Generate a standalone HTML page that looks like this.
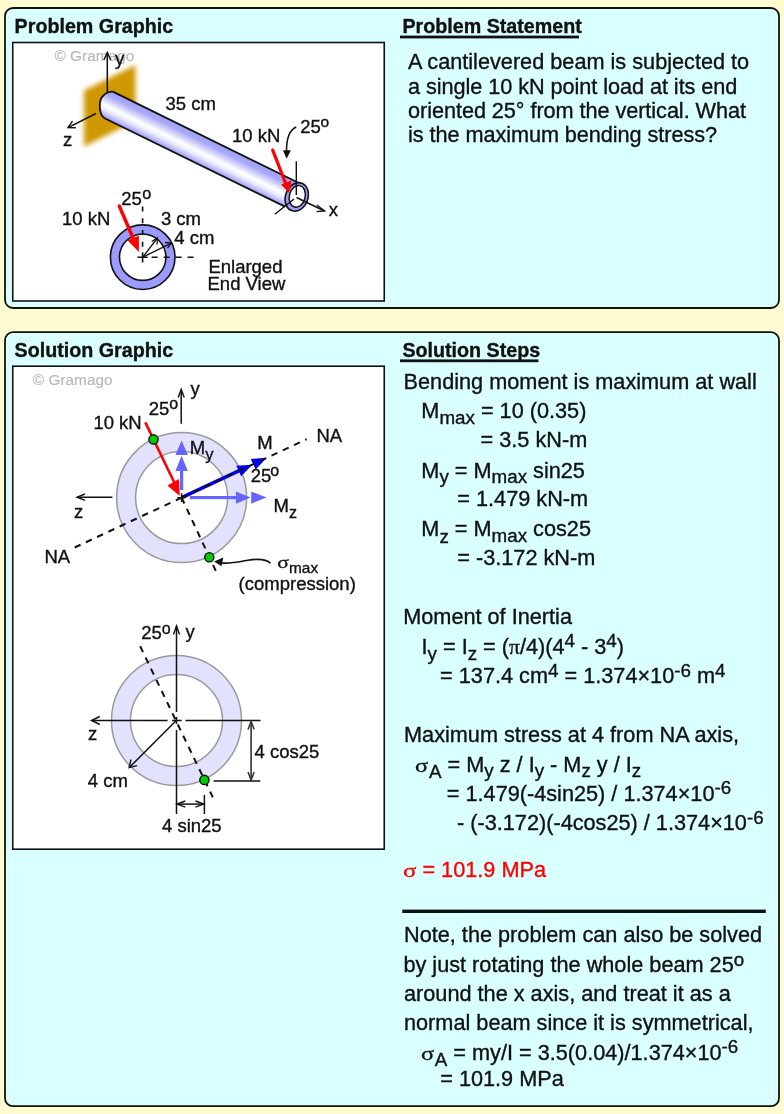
<!DOCTYPE html>
<html><head><meta charset="utf-8">
<style>
html,body{margin:0;padding:0;background:#FFFCD2;width:784px;height:1114px;overflow:hidden}
svg{display:block;will-change:transform}
text{font-family:"Liberation Sans",sans-serif;fill:#111;stroke:#111;stroke-width:0.35px}
.h{font-weight:bold;font-size:19.7px}
.b{font-size:21.7px}
.l{font-size:18.5px}
.s{font-size:18.8px}
.gr{font-family:"Liberation Serif",serif}
.cp{font-size:15.4px;fill:#b4b8b8;stroke:#b4b8b8;stroke-width:0.1px}
</style></head>
<body>
<svg width="784" height="1114" viewBox="0 0 784 1114">
<defs>
  <linearGradient id="beamg" gradientUnits="userSpaceOnUse" x1="206.07" y1="137.72" x2="193.93" y2="162.28">
    <stop offset="0" stop-color="#a2a2f6"/>
    <stop offset="0.2" stop-color="#a9a9f8"/>
    <stop offset="0.56" stop-color="#ffffff"/>
    <stop offset="0.72" stop-color="#ececfe"/>
    <stop offset="1" stop-color="#9898f8"/>
  </linearGradient>
  <filter id="blur1" x="-20%" y="-20%" width="140%" height="140%"><feGaussianBlur stdDeviation="2.4"/></filter>
  <marker id="oa" viewBox="0 0 10 10" refX="10" refY="5" markerWidth="8" markerHeight="8" orient="auto" markerUnits="userSpaceOnUse">
    <path d="M0,1 L10,5 L0,9" fill="none" stroke="#111" stroke-width="1.5"/>
  </marker>
</defs>

<!-- Panel 1 -->
<rect x="5" y="8" width="774" height="300" rx="8" fill="#DAFFFF" stroke="#111" stroke-width="1.8"/>
<rect x="12.75" y="42.5" width="371.5" height="258.5" fill="#fff" stroke="#111" stroke-width="1.6"/>
<text class="h" x="14.6" y="33">Problem Graphic</text>
<text class="h" x="402.4" y="33">Problem Statement</text>
<rect x="400" y="35.6" width="179" height="2.8" fill="#111"/>
<text class="b" x="408" y="69">A cantilevered beam is subjected to</text>
<text class="b" x="408" y="93.6" textLength="329.4" lengthAdjust="spacing">a single 10 kN point load at its end</text>
<text class="b" x="408" y="117.7" textLength="338" lengthAdjust="spacing">oriented 25° from the vertical. What</text>
<text class="b" x="408" y="141.5" textLength="309" lengthAdjust="spacing">is the maximum bending stress?</text>

<g id="pg1">
  <text class="cp" x="54.5" y="61.4">© Gramago</text>
  <!-- wall -->
  <path d="M84,90.5 L135.5,65 L135.5,121 L84,146.5 Z" fill="#CF9806" filter="url(#blur1)"/>
  <!-- y axis -->
  <line x1="107.3" y1="92" x2="107.3" y2="52.5" stroke="#111" stroke-width="1.5"/>
  <path d="M103.8,60 L107.3,52.5 L110.8,60" fill="none" stroke="#111" stroke-width="1.4"/>
  <text class="l" x="115" y="64.5">y</text>
  <!-- z axis -->
  <line x1="96" y1="113.5" x2="68" y2="127.6" stroke="#111" stroke-width="1.5"/>
  <path d="M72.5,121.2 L68,127.6 L75.8,127.8" fill="none" stroke="#111" stroke-width="1.4"/>
  <text class="l" x="63" y="146">z</text>
  <!-- beam -->
  <path d="M112.8,91.6 L302,184.5 L285,206.6 L104.6,118.2 C98.5,114.5 98.5,100 103,96 C105.5,93 109,91.4 112.8,91.6 Z" fill="url(#beamg)"/>
  <path d="M112.8,91.6 L302,184.5 M285,206.6 L104.6,118.2 C98.5,114.5 98.5,100 103,96 C105.5,93 109,91.4 112.8,91.6" fill="none" stroke="#111" stroke-width="1.8"/>
  <!-- end ring -->
  <ellipse cx="0" cy="0" rx="11.2" ry="14.6" fill="#9c9cf8" stroke="#111" stroke-width="1.6" transform="translate(296.75,196.9) rotate(20)"/>
  <ellipse cx="0" cy="0" rx="7.9" ry="11" fill="#fff" stroke="#111" stroke-width="1.5" transform="translate(297.3,196.3) rotate(14)"/>
  <line x1="296.3" y1="161.3" x2="296.3" y2="195" stroke="#111" stroke-width="1.4"/>
  <line x1="296.5" y1="197.5" x2="324.5" y2="211" stroke="#111" stroke-width="1.4"/>
  <path d="M316.8,205 L324.5,211 L316.5,211.6" fill="none" stroke="#111" stroke-width="1.4"/>
  <line x1="294" y1="199" x2="274.8" y2="214.3" stroke="#111" stroke-width="1.4"/>
  <text class="l" x="328.8" y="216.3">x</text>
  <!-- red arrow -->
  <line x1="272.7" y1="150.1" x2="285.5" y2="183" stroke="#ff0000" stroke-width="3.2" stroke-linecap="round"/>
  <path d="M281.1,184.5 L291.8,180.2 L289,192.7 Z" fill="#ff0000"/>
  <text class="l" x="232" y="141.5">10 kN</text>
  <text class="l" x="300.2" y="132.8">25</text>
  <text x="320.5" y="126.5" style="font-size:15.5px">o</text>
  <path d="M296.3,127 C289,130 286.5,140 286.5,151" fill="none" stroke="#111" stroke-width="1.5"/>
  <path d="M283,150.2 L291,150.2 L286.5,158.7 Z" fill="#111"/>
  <text class="l" x="165.5" y="109.6">35 cm</text>
  <!-- end view -->
  <circle cx="142.7" cy="257.2" r="32.3" fill="#9a9aff" stroke="#111" stroke-width="1.6"/>
  <circle cx="142.7" cy="257.2" r="23.2" fill="#fff" stroke="#111" stroke-width="1.6"/>
  <line x1="142.6" y1="206.4" x2="142.6" y2="250" stroke="#111" stroke-width="1.6" stroke-dasharray="5,6.8"/>
  <line x1="151.6" y1="257.3" x2="194" y2="257.3" stroke="#111" stroke-width="1.6" stroke-dasharray="6,6"/>
  <path d="M137.5,257.3 H147.6 M142.6,252.3 V262.4" stroke="#111" stroke-width="1.6"/>
  <line x1="142.7" y1="257.2" x2="157.4" y2="238" stroke="#111" stroke-width="1.3"/>
  <path d="M151.8,241.5 L157.4,238 L157,244.5" fill="none" stroke="#111" stroke-width="1.3"/>
  <line x1="142.7" y1="257.2" x2="171.4" y2="243.1" stroke="#111" stroke-width="1.3"/>
  <path d="M165,242.5 L171.4,243.1 L167.5,248.2" fill="none" stroke="#111" stroke-width="1.3"/>
  <line x1="119.3" y1="206.1" x2="133.5" y2="239" stroke="#ff0000" stroke-width="3.5" stroke-linecap="round"/>
  <path d="M127.5,240.2 L138.9,235.8 L138.9,251.9 Z" fill="#ff0000"/>
  <text class="l" x="62" y="224.6">10 kN</text>
  <text class="l" x="121.3" y="204.6">25</text>
  <text x="142.3" y="198.6" style="font-size:16.2px">o</text>
  <text class="l" x="160.9" y="225.3">3 cm</text>
  <text class="l" x="174.3" y="243.8">4 cm</text>
  <text class="l" x="208.4" y="272.5">Enlarged</text>
  <text class="l" x="207.5" y="290">End View</text>
</g>

<!-- Panel 2 -->
<rect x="5" y="332.2" width="774" height="774" rx="8" fill="#DAFFFF" stroke="#111" stroke-width="1.8"/>
<rect x="12.75" y="366.2" width="371.5" height="483" fill="#fff" stroke="#111" stroke-width="1.6"/>
<text class="h" x="14.6" y="357">Solution Graphic</text>
<text class="h" x="402.4" y="356.7">Solution Steps</text>
<rect x="400" y="359.4" width="138.4" height="2.8" fill="#111"/>

<g id="sg1">
  <text class="cp" x="32.8" y="384.9">© Gramago</text>
  <circle cx="181.6" cy="497.6" r="55.5" fill="none" stroke="#e2e2fe" stroke-width="19"/>
  <circle cx="181.6" cy="497.6" r="65" fill="none" stroke="#9a9a9a" stroke-width="1.5"/>
  <circle cx="181.6" cy="497.6" r="46" fill="none" stroke="#9a9a9a" stroke-width="1.5"/>
  <!-- y axis -->
  <line x1="181.2" y1="423.8" x2="181.2" y2="390" stroke="#111" stroke-width="1.5"/>
  <path d="M178.2,397.5 L181.2,389.2 L184.2,397.5" fill="none" stroke="#111" stroke-width="1.4"/>
  <text class="l" x="190.5" y="395.3">y</text>
  <text class="l" x="148.7" y="415">25</text>
  <text x="169.3" y="408.8" style="font-size:16px">o</text>
  <text class="l" x="93.4" y="428.5">10 kN</text>
  <!-- z axis -->
  <line x1="112.4" y1="497.2" x2="77.5" y2="497.2" stroke="#111" stroke-width="1.5"/>
  <path d="M85,494 L77,497.2 L85,500.4" fill="none" stroke="#111" stroke-width="1.4"/>
  <text class="l" x="74" y="518.3">z</text>
  <!-- NA dashed -->
  <line x1="74.66" y1="547.47" x2="181.6" y2="497.6" stroke="#111" stroke-width="2" stroke-dasharray="6.5,5.9"/>
  <text class="l" x="44.5" y="562.6">NA</text>
  <text class="l" x="316.5" y="442">NA</text>
  <!-- My arrows -->
  <rect x="180" y="467" width="3.2" height="23" fill="#6666ff"/>
  <path d="M175.4,471 L187.8,471 L181.6,455.7 Z M175.4,455 L187.8,455 L181.6,440.4 Z" fill="#6666ff"/>
  <text class="l" x="189.8" y="454.4">M<tspan dy="5.2" style="font-size:16.5px">y</tspan></text>
  <!-- Mz arrows -->
  <rect x="190" y="496" width="46" height="3.2" fill="#6666ff"/>
  <path d="M235.9,491.5 L235.9,503.7 L250.6,497.6 Z M251.2,491.5 L251.2,503.7 L266.5,497.6 Z" fill="#6666ff"/>
  <text class="l" x="273.6" y="512.3">M<tspan dy="5.7" style="font-size:16px">z</tspan></text>
  <!-- M arrow -->
  <line x1="181.6" y1="497.6" x2="241.42" y2="469.71" stroke="#0000ee" stroke-width="3.6"/>
  <path d="M252.29,464.64 L241.15,476.23 L236.25,465.72 Z M266.79,457.87 L255.65,469.47 L250.75,458.96 Z" fill="#0000ee"/>
  <line x1="181.6" y1="497.6" x2="306.67" y2="439.28" stroke="#111" stroke-width="2" stroke-dasharray="6.5,5.9"/>
  <text class="l" x="257.3" y="448.9">M</text>
  <text class="l" x="250.8" y="482.1">25</text>
  <text x="270.2" y="476" style="font-size:16px">o</text>
  <!-- diag dashed -->
  <line x1="181.6" y1="497.6" x2="217.95" y2="575.54" stroke="#111" stroke-width="2" stroke-dasharray="6.5,5.9"/>
  <!-- red force -->
  <line x1="145.3" y1="422.4" x2="175.5" y2="485" stroke="#ff0000" stroke-width="2.6"/>
  <path d="M167.4,485.4 L179,479 L179.7,496 Z" fill="#ff0000"/>
  <path d="M177.2,497.6 H186 M181.6,493.2 V502" stroke="#111" stroke-width="1.4"/>
  <circle cx="153.5" cy="439.4" r="4.6" fill="#00cc00" stroke="#111" stroke-width="1.4"/>
  <circle cx="209.3" cy="557.2" r="4.6" fill="#00cc00" stroke="#111" stroke-width="1.4"/>
  <!-- sigma max -->
  <path d="M270.5,563.2 C266.5,559.2 258,558.6 248,560.2 C238,562 230,564 221,562.9" fill="none" stroke="#111" stroke-width="1.6"/>
  <path d="M214.1,561.6 L223.3,557.6 L221.5,566.2 Z" fill="#111"/>
  <text class="gr" transform="matrix(0.2167,0,0,0.1692,277.13,567.92)" style="font-size:100px;stroke-width:1.6px">σ</text>
  <text x="289" y="573.3" style="font-size:15.4px">max</text>
  <text class="l" x="238.6" y="590.3">(compression)</text>
</g>
<g id="sg2">
  <circle cx="176.5" cy="720.5" r="55.5" fill="none" stroke="#e2e2fe" stroke-width="19"/>
  <circle cx="176.5" cy="720.5" r="65" fill="none" stroke="#9a9a9a" stroke-width="1.5"/>
  <circle cx="176.5" cy="720.5" r="46" fill="none" stroke="#9a9a9a" stroke-width="1.5"/>
  <!-- y axis with gaps -->
  <path d="M176.5,626.5 V712 M176.5,717 V724 M176.5,730 V814" stroke="#111" stroke-width="1.5"/>
  <path d="M173.5,634.5 L176.5,625.8 L179.5,634.5" fill="none" stroke="#111" stroke-width="1.4"/>
  <path d="M92,720.5 H167.6 M172.1,720.5 H181.7 M185.5,720.5 H260.5" stroke="#111" stroke-width="1.5"/>
  <path d="M99.8,716.5 L91.5,720.5 L99.8,724.5" fill="none" stroke="#111" stroke-width="1.4"/>
  <text class="l" x="141.2" y="638.6">25</text>
  <text x="161.8" y="634.1" style="font-size:16px">o</text>
  <text class="l" x="185.5" y="638.2">y</text>
  <text class="l" x="88" y="739.5">z</text>
  <line x1="140.2" y1="646.3" x2="212.8" y2="797.2" stroke="#111" stroke-width="2" stroke-dasharray="6.5,5.9" stroke-dashoffset="0"/>
  <!-- 4 cm arrow -->
  <line x1="176.3" y1="720.5" x2="129.6" y2="767.2" stroke="#111" stroke-width="1.5"/>
  <path d="M131,759.5 L129.1,767.6 L137,765.6" fill="none" stroke="#111" stroke-width="1.4"/>
  <text class="l" x="87.8" y="786.7">4 cm</text>
  <circle cx="204.4" cy="779.9" r="4.6" fill="#00cc00" stroke="#111" stroke-width="1.4"/>
  <!-- vertical dimension -->
  <path d="M213.6,781 H260.3" stroke="#111" stroke-width="1.5"/>
  <line x1="251.1" y1="721.5" x2="251.1" y2="780" stroke="#333" stroke-width="1.6"/>
  <path d="M248,729.5 L251.1,721.3 L254.2,729.5 M248,772 L251.1,780.2 L254.2,772" fill="none" stroke="#333" stroke-width="1.5"/>
  <text class="l" x="254.5" y="758.2">4 cos25</text>
  <!-- horizontal dimension -->
  <path d="M204.4,795 V814" stroke="#111" stroke-width="1.5"/>
  <line x1="177.3" y1="804.1" x2="203.6" y2="804.1" stroke="#111" stroke-width="1.5"/>
  <path d="M185.3,801 L177,804.1 L185.3,807.2 M195.5,801 L203.8,804.1 L195.5,807.2" fill="none" stroke="#111" stroke-width="1.4"/>
  <text class="l" x="162" y="832.4">4 sin25</text>
</g>
<g id="steps">
<text class="b" x="403.6" y="389">Bending moment is maximum at wall</text>
<text class="b" x="421.3" y="418.4">M<tspan class="s" dy="5.7">max</tspan><tspan dy="-5.7"> = 10 (0.35)</tspan></text>
<text class="b" x="480.6" y="446.9">= 3.5 kN-m</text>
<text class="b" x="421.3" y="477.7">M<tspan class="s" dy="5.7">y</tspan><tspan dy="-5.7"> = M<tspan class="s" dy="5.7">max</tspan><tspan dy="-5.7"> sin25</tspan></tspan></text>
<text class="b" x="457.3" y="506.3">= 1.479 kN-m</text>
<text class="b" x="421.3" y="536.4">M<tspan class="s" dy="6.2">z</tspan><tspan dy="-6.2"> = M<tspan class="s" dy="5.7">max</tspan><tspan dy="-5.7"> cos25</tspan></tspan></text>
<text class="b" x="457.3" y="565">= -3.172 kN-m</text>
<text class="b" x="403.2" y="624.4">Moment of Inertia</text>
<text class="b" x="421.5" y="653.5">I<tspan class="s" dy="6.4">y</tspan><tspan dy="-6.4"> = I<tspan class="s" dy="6.4">z</tspan><tspan dy="-6.4"> = (<tspan class="gr">π</tspan>/4)(4<tspan class="s" dy="-6.5">4</tspan><tspan dy="6.5"> - 3<tspan class="s" dy="-6.5">4</tspan><tspan dy="6.5">)</tspan></tspan></tspan></tspan></text>
<text class="b" x="440.1" y="683">= 137.4 cm<tspan class="s" dy="-6.4">4</tspan><tspan dy="6.4"> = 1.374×10<tspan class="s" dy="-6.4">-6</tspan><tspan dy="6.4"> m<tspan class="s" dy="-6.4">4</tspan><tspan dy="6.4"></tspan></tspan></tspan></text>
<text class="b" x="404" y="742.2">Maximum stress at 4 from NA axis,</text>
<text class="gr" transform="matrix(0.2437,0,0,0.1923,415.12,771.90)" style="font-size:100px;stroke-width:1.6px">σ</text>
<text class="b" x="429" y="771.5"><tspan class="s" dy="6.2">A</tspan><tspan dy="-6.2"> = M<tspan class="s" dy="5.7">y</tspan><tspan dy="-5.7"> z / I<tspan class="s" dy="5.7">y</tspan><tspan dy="-5.7"> - M<tspan class="s" dy="5.7">z</tspan><tspan dy="-5.7"> y / I<tspan class="s" dy="5.7">z</tspan><tspan dy="-5.7"></tspan></tspan></tspan></tspan></tspan></text>
<text class="b" x="446.8" y="800.5">= 1.479(-4sin25) / 1.374×10<tspan class="s" dy="-6.4">-6</tspan><tspan dy="6.4"></tspan></text>
<text class="b" x="457" y="830">- (-3.172)(-4cos25) / 1.374×10<tspan class="s" dy="-6.4">-6</tspan><tspan dy="6.4"></tspan></text>
<text class="gr" transform="matrix(0.2500,0,0,0.1962,403.10,877.10)" style="font-size:100px;fill:#ff0000;stroke:#ff0000;stroke-width:1.6px">σ</text>
<text class="b" x="422.4" y="876.9" style="fill:#ff0000;stroke:#ff0000">= 101.9 MPa</text>
<rect x="402.3" y="909.6" width="363.5" height="3.4" fill="#111"/>
<text class="b" x="404" y="941.6">Note, the problem can also be solved</text>
<text class="b" x="403.4" y="971.9">by just rotating the whole beam 25<tspan class="s" dy="-6">o</tspan><tspan dy="6"></tspan></text>
<text class="b" x="404" y="1000.5">around the x axis, and treat it as a</text>
<text class="b" x="404" y="1029.9">normal beam since it is symmetrical,</text>
<text class="gr" transform="matrix(0.2458,0,0,0.1904,421.12,1059.80)" style="font-size:100px;stroke-width:1.6px">σ</text>
<text class="b" x="434.8" y="1059.6"><tspan class="s" dy="6">A</tspan><tspan dy="-6"> = my/I = 3.5(0.04)/1.374×10<tspan class="s" dy="-6.4">-6</tspan><tspan dy="6.4"></tspan></tspan></text>
<text class="b" x="440.2" y="1085.5">= 101.9 MPa</text>
</g>

</svg>
</body></html>
